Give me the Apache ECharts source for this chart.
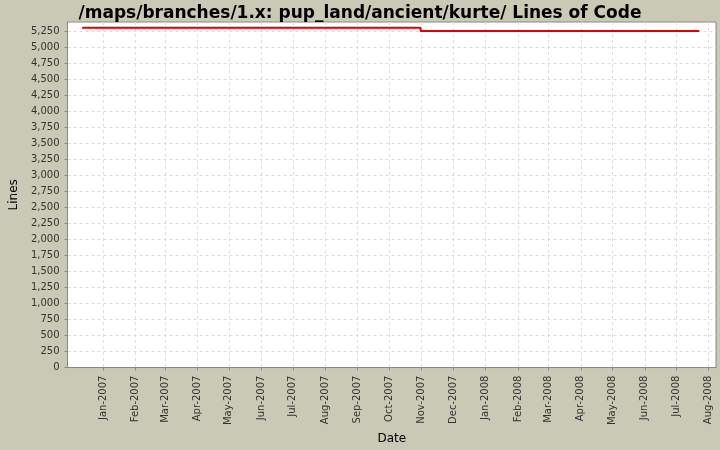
<!DOCTYPE html>
<html><head><meta charset="utf-8">
<script src="https://cdn.jsdelivr.net/npm/echarts@6/dist/echarts.min.js"></script>
<style>html,body{margin:0;background:#c9c9b5}#c{width:720px;height:450px}</style>
</head><body><div id="c"></div>
<script>
const dates = ['2006-12-12','2007-10-31','2007-10-31','2008-07-23'];
const lines = [5310,5310,5260,5260];
const monthTicks = ['2007-01-01','2007-02-01','2007-03-01','2007-04-01','2007-05-01','2007-06-01','2007-07-01','2007-08-01','2007-09-01','2007-10-01','2007-11-01','2007-12-01','2008-01-01','2008-02-01','2008-03-01','2008-04-01','2008-05-01','2008-06-01','2008-07-01','2008-08-01'];
const yTicks = [0,250,500,750,1000,1250,1500,1750,2000,2250,2500,2750,3000,3250,3500,3750,4000,4250,4500,4750,5000,5250];
const ts = s => Date.parse(s+'T00:00:00Z');
const mn = ['Jan','Feb','Mar','Apr','May','Jun','Jul','Aug','Sep','Oct','Nov','Dec'];
const tickVals = monthTicks.map(ts);
const chart = echarts.init(document.getElementById('c'));
chart.setOption({
  animation:false,
  title:{text:'/maps/branches/1.x: pup_land/ancient/kurte/ Lines of Code',left:'center',top:0,
    textStyle:{fontFamily:'DejaVu Sans',fontSize:17,fontWeight:'bold',color:'#000'}},
  grid:{left:64,right:4,top:22,bottom:79,show:true,backgroundColor:'#fff',borderColor:'#888'},
  xAxis:{type:'value',min:ts('2006-11-28'),max:ts('2008-08-08'),
    name:'Date',nameLocation:'middle',nameGap:64,nameTextStyle:{fontFamily:'DejaVu Sans',fontSize:12,color:'#000'},
    axisLine:{lineStyle:{color:'#888'}},
    axisTick:{customValues:tickVals,length:3,lineStyle:{color:'#888'}},
    axisLabel:{customValues:tickVals,rotate:90,fontFamily:'DejaVu Sans',fontSize:10,color:'#333',
      formatter:v=>{const d=new Date(v);return mn[d.getUTCMonth()]+'-'+d.getUTCFullYear();}},
    splitLine:{show:true,lineStyle:{color:'#ddd',type:[3,3]}}},
  yAxis:{type:'value',min:0,max:5400,
    name:'Lines',nameLocation:'middle',nameGap:44,nameTextStyle:{fontFamily:'DejaVu Sans',fontSize:12,color:'#000'},
    axisLine:{show:true,lineStyle:{color:'#888'}},
    axisTick:{show:true,customValues:yTicks,length:3,lineStyle:{color:'#888'}},
    axisLabel:{customValues:yTicks,fontFamily:'DejaVu Sans',fontSize:10,color:'#333',
      formatter:v=>v.toLocaleString('en-US')},
    splitLine:{show:true,lineStyle:{color:'#ddd',type:[3,3]}}},
  series:[{type:'line',symbol:'none',data:dates.map((d,i)=>[ts(d),lines[i]]),
    lineStyle:{color:'#e00000',width:2}}]
});
</script></body></html>
